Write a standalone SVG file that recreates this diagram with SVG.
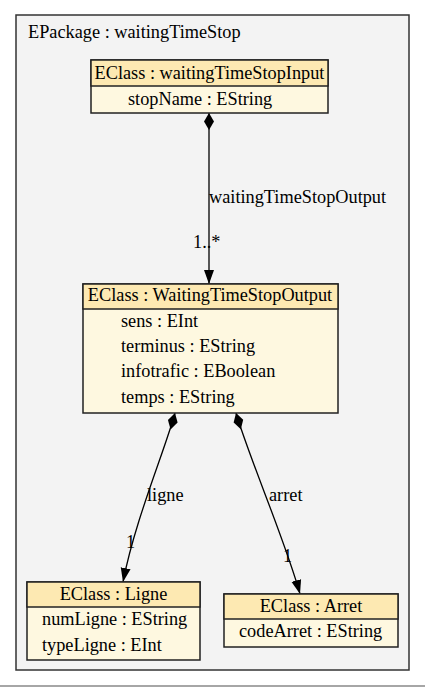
<svg xmlns="http://www.w3.org/2000/svg" width="425" height="687" viewBox="0 0 425 687" font-family="'Liberation Serif', 'DejaVu Serif', serif">
<style>
text{font-family:'Liberation Serif','DejaVu Serif',serif;font-size:18.3px;fill:#000}
.pkg{fill:#f3f3f3;stroke:#333;stroke-width:1.5}
.hd{fill:#fde9b2;stroke:#222;stroke-width:1.5}
.bd{fill:#fef8e0;stroke:#222;stroke-width:1.5}
.edge{fill:none;stroke:#000;stroke-width:1.3}
.c{text-anchor:middle}
</style>
<defs>
<marker id="arrow" markerUnits="userSpaceOnUse" markerWidth="16" markerHeight="12" refX="14" refY="6" orient="auto" viewBox="0 0 16 12">
<path d="M0,1 L14,6 L0,11 Z" fill="#000"/>
</marker>
<marker id="diamond" markerUnits="userSpaceOnUse" markerWidth="18" markerHeight="12" refX="0" refY="6" orient="auto" viewBox="0 0 18 12">
<path d="M0,6 L8.5,1 L17,6 L8.5,11 Z" fill="#000"/>
</marker>
</defs>
<rect width="425" height="687" fill="#fff"/>
<line x1="0" y1="686" x2="425" y2="686" stroke="#888" stroke-width="1.5"/>
<g id="package">
<rect class="pkg" x="16" y="15" width="393" height="655"/>
<text x="28" y="38">EPackage : waitingTimeStop</text>
</g>
<g id="connectors">
<path class="edge" d="M209,113 L209,284" marker-start="url(#diamond)" marker-end="url(#arrow)"/>
<text x="209" y="203">waitingTimeStopOutput</text>
<text x="193" y="248">1..*</text>
<path class="edge" d="M175,413 C165,450 135,520 123,582" marker-start="url(#diamond)" marker-end="url(#arrow)"/>
<text x="147" y="501">ligne</text>
<text x="126" y="548">1</text>
<path class="edge" d="M236,413 C250,460 285,540 300,594" marker-start="url(#diamond)" marker-end="url(#arrow)"/>
<text x="269" y="501">arret</text>
<text x="283" y="562">1</text>
</g>
<g id="waitingTimeStopInput">
<rect class="bd" x="91" y="60" width="237" height="53"/>
<rect class="hd" x="91" y="60" width="237" height="26"/>
<text class="c" x="209.5" y="79">EClass : waitingTimeStopInput</text>
<text x="128" y="105">stopName : EString</text>
</g>
<g id="WaitingTimeStopOutput">
<rect class="bd" x="83" y="284" width="255" height="129"/>
<rect class="hd" x="83" y="284" width="255" height="25"/>
<text class="c" x="210" y="301">EClass : WaitingTimeStopOutput</text>
<text x="121" y="327">sens : EInt</text>
<text x="121" y="352">terminus : EString</text>
<text x="121" y="377">infotrafic : EBoolean</text>
<text x="121" y="403">temps : EString</text>
</g>
<g id="Ligne">
<rect class="bd" x="27" y="582" width="173" height="78"/>
<rect class="hd" x="27" y="582" width="173" height="25"/>
<text class="c" x="113.5" y="600">EClass : Ligne</text>
<text x="42" y="625">numLigne : EString</text>
<text x="42" y="651">typeLigne : EInt</text>
</g>
<g id="Arret">
<rect class="bd" x="224" y="594" width="174" height="53"/>
<rect class="hd" x="224" y="594" width="174" height="25"/>
<text class="c" x="311" y="612">EClass : Arret</text>
<text x="239" y="637">codeArret : EString</text>
</g>
</svg>
